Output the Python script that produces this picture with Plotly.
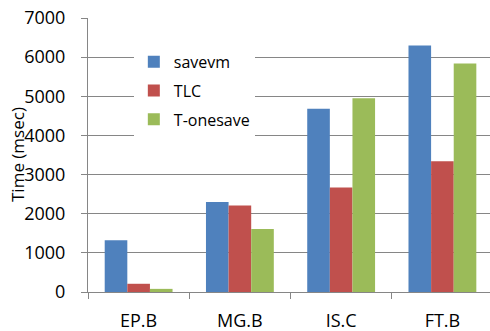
import plotly.graph_objects as go

categories = ["EP.B", "MG.B", "IS.C", "FT.B"]
savevm = [1320, 2300, 4680, 6300]
tlc = [210, 2210, 2670, 3340]
tonesave = [80, 1610, 4950, 5840]
series_names = ["savevm", "TLC", "T-onesave"]
colors = ["#4F81BD", "#C0504D", "#9BBB59"]
y_ticks = [0, 1000, 2000, 3000, 4000, 5000, 6000, 7000]
y_title = "Time (msec)"

FONT = "Open Sans"
fig = go.Figure()
for i, (name, vals) in enumerate(zip(series_names, [savevm, tlc, tonesave])):
    fig.add_trace(go.Bar(
        x=categories, y=vals, name=name,
        marker=dict(color=colors[i], line=dict(width=0)),
        legendgroup=name,
    ))

fig.update_layout(
    width=490, height=331,
    margin=dict(l=88, r=0, t=18, b=39, autoexpand=False),
    paper_bgcolor="white", plot_bgcolor="white",
    barmode="group", bargap=0.33, bargroupgap=0,
    font=dict(family=FONT, size=18, color="black"),
    showlegend=True,
    legend=dict(
        x=0.114, y=0.902, xanchor="left", yanchor="top",
        bgcolor="white", borderwidth=0,
        font=dict(family=FONT, size=16, color="black"),
        tracegroupgap=5, itemwidth=30,
    ),
    xaxis=dict(
        type="category", range=[-0.5, 3.47], automargin=False,
        showline=True, linecolor="#868686", linewidth=1,
        ticks="outside", ticklen=6, tickcolor="#868686",
        tickson="boundaries", ticklabelstandoff=12,
        showgrid=False, tickfont=dict(size=18),
    ),
    yaxis=dict(
        range=[0, 7001], tickvals=y_ticks, automargin=False,
        showline=True, linecolor="#868686", linewidth=1,
        ticks="outside", ticklen=6, tickcolor="#868686",
        showgrid=True, gridcolor="#868686", gridwidth=1,
        ticklabelstandoff=12, zeroline=False,
        tickfont=dict(size=18),
    ),
    annotations=[dict(
        text=y_title, textangle=-90, showarrow=False,
        xref="paper", yref="paper", x=(17 - 88) / 402, y=0.5,
        xanchor="center", yanchor="middle",
        font=dict(family=FONT, size=17, color="black"),
    )],
)

fig.write_html(
    "out.html",
    config={"displayModeBar": False},
    post_script="document.body.style.margin='0';document.body.style.overflow='hidden';",
)
